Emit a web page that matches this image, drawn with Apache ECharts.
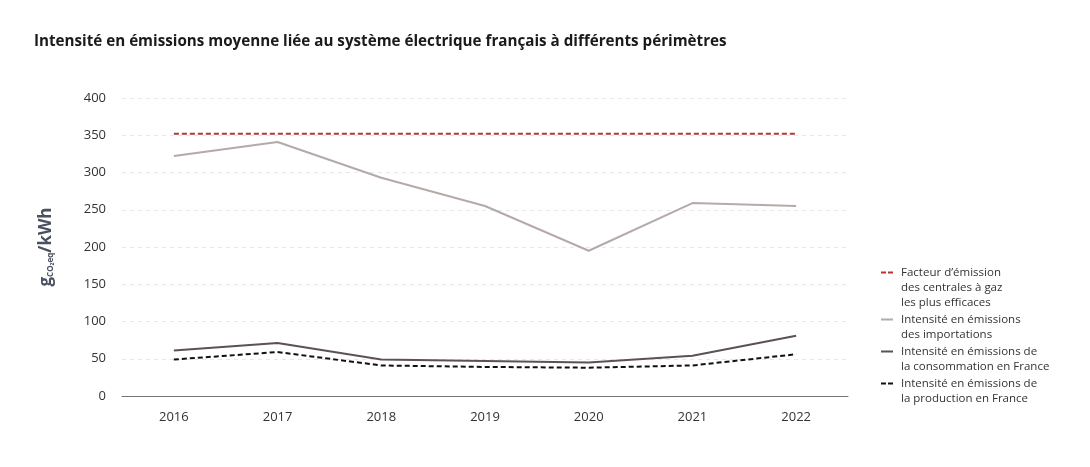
<!DOCTYPE html>
<html>
<head>
<meta charset="utf-8">
<script src="https://cdn.jsdelivr.net/npm/echarts@6/dist/echarts.min.js"></script>
<style>
  html, body { margin: 0; padding: 0; background: #fff; }
  #chart { width: 1090px; height: 467px; }
</style>
</head>
<body>
<div id="chart"></div>
<script>
// données
var annees = ['2016', '2017', '2018', '2019', '2020', '2021', '2022'];
var gazEfficace = [352, 352, 352, 352, 352, 352, 352];
var importations = [322, 341, 293, 255, 195, 259, 255];
var consommation = [61, 71, 49, 47, 45, 54, 81];
var production = [49, 59, 41, 39, 38, 41, 56];

var nomGaz = 'Facteur d\u2019émission\ndes centrales à gaz\nles plus efficaces';
var nomImport = 'Intensité en émissions\ndes importations';
var nomConso = 'Intensité en émissions de\nla consommation en France';
var nomProd = 'Intensité en émissions de\nla production en France';

// icônes de légende : trait en haut du bloc de texte
function icone(pointille, h) {
  var d = pointille
    ? 'M0,6.5H5V8.5H0Z M7,6.5H12V8.5H7Z'
    : 'M0,6.5H12V8.5H0Z';
  return 'path://' + d + ' M0,0L12,0 M0,' + h + 'L12,' + h;
}

var legendeTexte = { fontSize: 11.5, color: '#333', lineHeight: 15, fontFamily: 'Open Sans', padding: [0, 0, 0, 3] };

var myChart = echarts.init(document.getElementById('chart'));

var option = {
  animation: false,
  textStyle: { fontFamily: 'Open Sans' },
  title: {
    text: 'Intensité en émissions moyenne liée au système électrique français à différents périmètres',
    left: 29,
    top: 29,
    textStyle: { fontSize: 15.2, fontWeight: 'bold', color: '#1a1a1a', fontFamily: 'Open Sans' }
  },
  legend: [
    {
      orient: 'vertical',
      left: 876,
      top: 260,
      itemWidth: 12,
      itemHeight: 45,
      itemGap: 2,
      textStyle: legendeTexte,
      data: [{ name: nomGaz, icon: icone(true, 45) }]
    },
    {
      orient: 'vertical',
      left: 876,
      top: 307,
      itemWidth: 12,
      itemHeight: 30,
      itemGap: 2,
      textStyle: legendeTexte,
      data: [
        { name: nomImport, icon: icone(false, 30) },
        { name: nomConso, icon: icone(false, 30) },
        { name: nomProd, icon: icone(true, 30) }
      ]
    }
  ],
  grid: { left: 122, right: 242, top: 98, bottom: 71 },
  xAxis: {
    type: 'category',
    data: annees,
    boundaryGap: true,
    axisLine: { lineStyle: { color: '#777', width: 1 } },
    axisTick: { show: false },
    axisLabel: { color: '#333', fontSize: 13, margin: 15 }
  },
  yAxis: {
    type: 'value',
    min: 0,
    max: 400,
    interval: 50,
    name: '{g|g}{sub|CO\u2082eq}{g|/kWh}',
    nameLocation: 'middle',
    nameRotate: 90,
    nameGap: 67,
    nameTextStyle: {
      rich: {
        g: { fontSize: 17, fontWeight: 'bold', color: '#4a5060', fontFamily: 'Open Sans' },
        sub: { fontSize: 8, fontWeight: 'bold', color: '#4a5060', verticalAlign: 'bottom', padding: [7, 0, 0, 0], fontFamily: 'Open Sans' }
      }
    },
    axisLine: { show: false },
    axisTick: { show: false },
    axisLabel: { color: '#333', fontSize: 13, margin: 16 },
    splitLine: { lineStyle: { color: '#e8e8e8', type: [4, 4] } }
  },
  series: [
    {
      name: nomGaz, type: 'line', data: gazEfficace, symbol: 'none',
      lineStyle: { color: '#b83236', width: 2, type: [5, 3] },
      itemStyle: { color: '#b83236' }
    },
    {
      name: nomImport, type: 'line', data: importations, symbol: 'none',
      lineStyle: { color: '#b5aaa7', width: 2 },
      itemStyle: { color: '#b5aaa7' }
    },
    {
      name: nomConso, type: 'line', data: consommation, symbol: 'none',
      lineStyle: { color: '#5b5157', width: 2 },
      itemStyle: { color: '#5b5157' }
    },
    {
      name: nomProd, type: 'line', data: production, symbol: 'none',
      lineStyle: { color: '#111', width: 2, type: [5, 3] },
      itemStyle: { color: '#111' }
    }
  ]
};

myChart.setOption(option);
</script>
</body>
</html>
